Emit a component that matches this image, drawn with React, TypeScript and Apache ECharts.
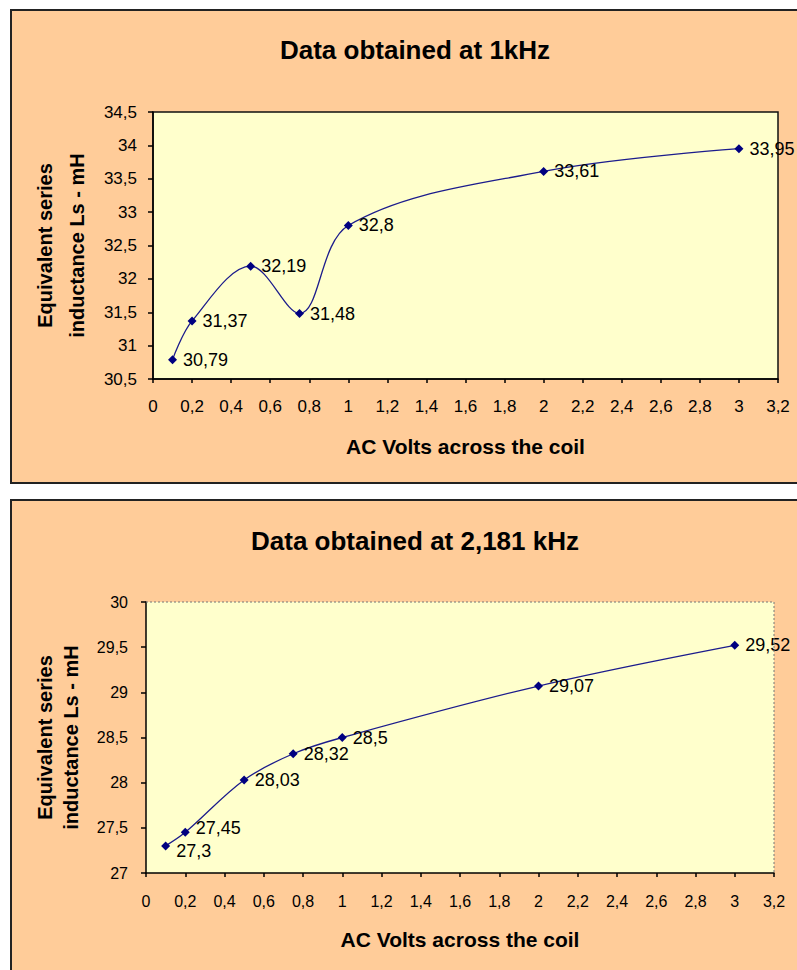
import React, { useEffect, useRef } from "react";
import * as echarts from "echarts";

const voltsTop = [0.1, 0.2, 0.5, 0.75, 1, 2, 3];
const lsTop = [30.79, 31.37, 32.19, 31.48, 32.8, 33.61, 33.95];
const voltsBottom = [0.1, 0.2, 0.5, 0.75, 1, 2, 3];
const lsBottom = [27.3, 27.45, 28.03, 28.32, 28.5, 29.07, 29.52];

const titleTop = "Data obtained at 1kHz";
const titleBottom = "Data obtained at 2,181 kHz";
const xName = "AC Volts across the coil";
const yName = "Equivalent series\ninductance Ls - mH";

const FONT = "Arial, 'Liberation Sans', sans-serif";
const fmt = (v: number) => String(Math.round(v * 100) / 100).replace(".", ",");

export default function App() {
  const ref = useRef<HTMLDivElement>(null);
  useEffect(() => {
    if (!ref.current) return;
    const chart = echarts.init(ref.current, null, { renderer: "svg" });
    const lineColor = "#1c1c8c";
    const mkX = (gridIndex: number, fs: number, margin: number, gap: number) => ({
      type: "value",
      gridIndex,
      min: 0,
      max: 3.2,
      interval: 0.2,
      axisLine: { show: true, onZero: false, lineStyle: { color: "#000", width: 1.5 } },
      axisTick: { show: true, length: 4, lineStyle: { color: "#000", width: 1.5 } },
      axisLabel: { color: "#000", fontSize: fs, fontFamily: FONT, margin, formatter: fmt },
      splitLine: { show: false },
      name: xName,
      nameLocation: "middle",
      nameGap: gap,
      nameTextStyle: { color: "#000", fontSize: 21, fontWeight: "bold", fontFamily: FONT },
    });
    const mkY = (
      gridIndex: number,
      min: number,
      max: number,
      fs: number,
      margin: number,
      gap: number,
      lh: number
    ) => ({
      type: "value",
      gridIndex,
      min,
      max,
      interval: 0.5,
      axisLine: { show: true, onZero: false, lineStyle: { color: "#000", width: 1.5 } },
      axisTick: { show: true, length: 5, lineStyle: { color: "#000", width: 1.5 } },
      axisLabel: { color: "#000", fontSize: fs, fontFamily: FONT, margin, formatter: fmt },
      splitLine: { show: false },
      name: yName,
      nameLocation: "middle",
      nameGap: gap,
      nameTextStyle: { color: "#000", fontSize: 20, fontWeight: "bold", fontFamily: FONT, lineHeight: lh },
    });
    const mkSeries = (
      idx: number,
      xs: number[],
      ys: number[],
      fs: number,
      offsets: Record<number, number[]>
    ) => ({
      type: "line",
      xAxisIndex: idx,
      yAxisIndex: idx,
      data: xs.map((x, i) =>
        offsets[i] ? { value: [x, ys[i]], label: { offset: offsets[i] } } : { value: [x, ys[i]] }
      ),
      smooth: 0.35,
      symbol: "diamond",
      symbolSize: 9,
      lineStyle: { color: lineColor, width: 1.3 },
      itemStyle: { color: "#000080" },
      label: {
        show: true,
        position: "right",
        distance: 6,
        color: "#000",
        fontSize: fs,
        fontFamily: FONT,
        formatter: (p: any) => fmt(p.value[1]),
      },
    });
    chart.setOption({
      animation: false,
      backgroundColor: "#ffffff",
      title: [
        {
          text: titleTop,
          left: 410,
          top: 32,
          textAlign: "center",
          textStyle: { fontSize: 26, fontWeight: "bold", color: "#000", fontFamily: FONT },
        },
        {
          text: titleBottom,
          left: 410,
          top: 523,
          textAlign: "center",
          textStyle: { fontSize: 26, fontWeight: "bold", color: "#000", fontFamily: FONT },
        },
      ],
      graphic: [
        {
          type: "rect",
          z: -10,
          shape: { x: 11, y: 10, width: 800, height: 473 },
          style: { fill: "#FFCC99", stroke: "#222", lineWidth: 2 },
        },
        {
          type: "rect",
          z: -10,
          shape: { x: 11, y: 500, width: 800, height: 480 },
          style: { fill: "#FFCC99", stroke: "#222", lineWidth: 2 },
        },
        {
          type: "polyline",
          z: 10,
          shape: { points: [[146, 602], [774, 602], [774, 873]] },
          style: { fill: "none", stroke: "#777", lineWidth: 1, lineDash: [2, 2] },
        },
      ],
      grid: [
        {
          left: 153,
          top: 112,
          width: 625,
          height: 267,
          show: true,
          backgroundColor: "#FFFFCC",
          borderColor: "#111",
          borderWidth: 1.5,
        },
        {
          left: 146,
          top: 602,
          width: 628,
          height: 271,
          show: true,
          backgroundColor: "#FFFFCC",
          borderWidth: 0,
        },
      ],
      xAxis: [mkX(0, 17, 19, 57), mkX(1, 16, 20, 56)],
      yAxis: [mkY(0, 30.5, 34.5, 17, 16, 54, 32), mkY(1, 27, 30, 16, 18, 62, 26)],
      series: [
        mkSeries(0, voltsTop, lsTop, 18, {}),
        mkSeries(1, voltsBottom, lsBottom, 18, { 0: [0, 5], 1: [0, -4] }),
      ],
    });
    return () => chart.dispose();
  }, []);
  return (
    <div
      ref={ref}
      style={{ position: "absolute", left: 0, top: 0, width: 797, height: 970 }}
    />
  );
}
